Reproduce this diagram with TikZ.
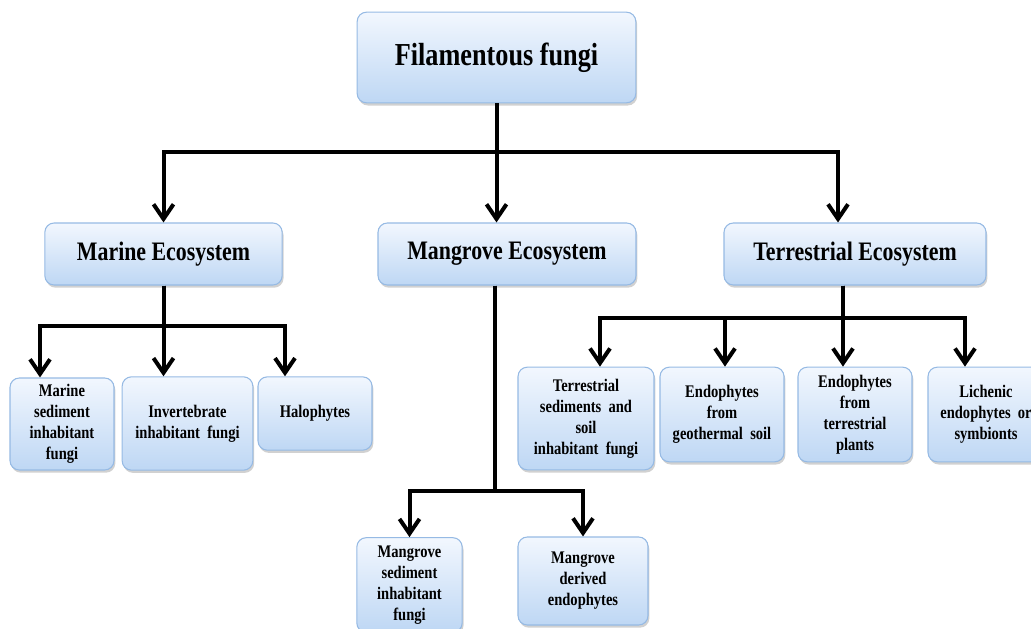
\documentclass[tikz,border=0pt]{standalone}
\usepackage{fontspec}
\setmainfont[FakeStretch=0.82]{Liberation Serif}
\usepackage{xcolor}
\definecolor{boxtop}{RGB}{242, 247, 254}
\definecolor{boxbottom}{RGB}{190, 215, 244}
\definecolor{boxline}{RGB}{150, 186, 228}
\usepackage{tikz}
\usetikzlibrary{arrows.meta, calc, shadows}

\begin{document}
\begin{tikzpicture}[x=0.75pt, y=-0.75pt,
        box/.style={rectangle, draw=boxline, line width=0.8pt, rounded corners=7pt, top color=boxtop, bottom color=boxbottom, align=center, inner sep=2pt, drop shadow={shadow xshift=1pt, shadow yshift=-2pt, opacity=0.3, fill=black!60}},
        root/.style={box, minimum width=209pt, minimum height=68pt, font=\fontsize{24}{29}\selectfont\bfseries},
        group/.style={box, minimum height=46.5pt, font=\fontsize{20}{24}\selectfont\bfseries},
        leaf/.style={box, font=\fontsize{13.3}{15.8}\selectfont\bfseries},
        line/.style={draw=black, line width=3pt, -{Straight Barb[length=11pt, width=15pt]}}]

        \useasboundingbox (0,0) rectangle (1031,628);
        \clip (0,0) rectangle (1031,628);

        \node [root] (fungi) at (496.5,57.5) {Filamentous fungi};

        \node [group, minimum width=178pt] (marine) at (163.5,254) {Marine Ecosystem};
        \node [group, minimum width=193.5pt] (mangrove) at (507,254) {Mangrove Ecosystem};
        \node [group, minimum width=196.5pt] (terr) at (855,254) {Terrestrial Ecosystem};

        \node [leaf, minimum width=78pt, minimum height=69pt] (msed) at (62,424) {Marine\\sediment\\inhabitant\\fungi};
        \node [leaf, minimum width=98pt, minimum height=70pt] (invert) at (187.5,423.5) {Invertebrate\\inhabitant\ \ fungi};
        \node [leaf, minimum width=85.5pt, minimum height=55pt] (halo) at (315,413.5) {Halophytes};

        \node [leaf, minimum width=102pt, minimum height=77pt] (tsed) at (586,418.5) {Terrestrial\\sediments\ \ and\\soil\\inhabitant\ \ fungi};
        \node [leaf, minimum width=93pt, minimum height=71pt] (geo) at (722,414.5) {Endophytes\\from\\geothermal\ \ soil};
        \node [leaf, minimum width=85.5pt, minimum height=71pt] (tplant) at (855,414.5) {Endophytes\\from\\terrestrial\\plants};
        \node [leaf, minimum width=87pt, minimum height=71pt] (lich) at (986,414.5) {Lichenic\\endophytes\ \ or\\symbionts};

        \node [leaf, minimum width=79pt, minimum height=71pt] (mgsed) at (409.5,585) {Mangrove\\sediment\\inhabitant\\fungi};
        \node [leaf, minimum width=97.5pt, minimum height=66pt] (mgder) at (583,581) {Mangrove\\derived\\endophytes};

        \path [line] (fungi.south) -- ++(0,49) -| (marine.north);
        \path [line] (fungi.south) -- ++(0,49) -| ($(terr.north)+(-17,0)$);
        \path [line] (fungi.south) -- (fungi.south |- mangrove.north);

        \path [line] (marine.south) -- ++(0,40) -| ($(msed.north)+(-22,0)$);
        \path [line] (marine.south) -- ++(0,40) -| ($(halo.north)+(-30,0)$);
        \path [line] (marine.south) -- (marine.south |- invert.north);

        \path [line] ($(terr.south)+(-12,0)$) -- ++(0,32) -| ($(tsed.north)+(14,0)$);
        \path [line] ($(terr.south)+(-12,0)$) -- ++(0,32) -| ($(geo.north)+(3,0)$);
        \path [line] ($(terr.south)+(-12,0)$) -- ($(tplant.north)+(-12,0)$);
        \path [line] ($(terr.south)+(-12,0)$) -- ++(0,32) -| ($(lich.north)+(-21,0)$);

        \path [line] ($(mangrove.south)+(-12,0)$) -- ++(0,205) -| (mgsed.north);
        \path [line] ($(mangrove.south)+(-12,0)$) -- ++(0,205) -| (mgder.north);
    \end{tikzpicture}
\end{document}
